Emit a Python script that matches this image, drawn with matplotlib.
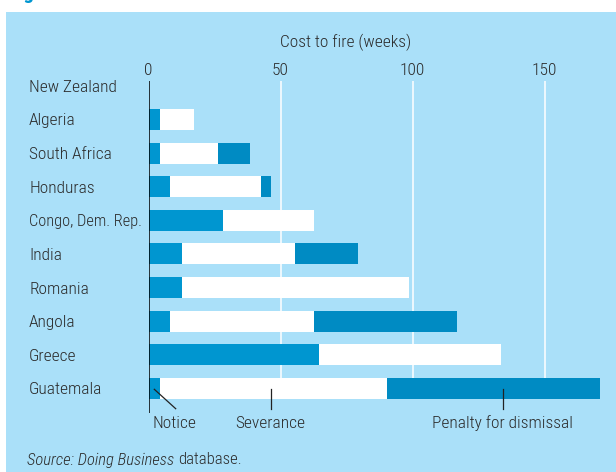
import matplotlib.pyplot as plt
from matplotlib import font_manager
from matplotlib.patches import Rectangle

# 데이터 (그림에서 읽은 값, 단위: 주)
countries = ["New Zealand", "Algeria", "South Africa", "Honduras", "Congo, Dem. Rep.",
             "India", "Romania", "Angola", "Greece", "Guatemala"]
notice = [0, 4.4, 4.4, 8.3, 28.3, 12.5, 12.5, 8.3, 64.7, 4.4]
severance = [0, 12.9, 22.0, 34.4, 34.5, 43.1, 86.3, 54.5, 68.9, 86.0]
penalty = [0, 0, 12.1, 3.8, 0, 23.8, 0, 54.1, 0, 80.6]
xticks = [0, 50, 100, 150]

bg = "#aae0f9"
blue = "#0096d0"
dark_blue = "#008bc3"
txt = "#2b2b2b"

# 좁은 글꼴이 있으면 그걸 쓰고, 없으면 Lato
installed = {f.name for f in font_manager.fontManager.ttflist}
font = "Lato"
for cand in ["Roboto Condensed", "Liberation Sans Narrow"]:
    if cand in installed:
        font = cand
        break
plt.rcParams['font.family'] = [font, 'DejaVu Sans']
plt.rcParams['font.weight'] = 'light'
fs = 12.5 if font != "Lato" else 11.5

W, H = 616, 472
fig = plt.figure(figsize=(W / 100, H / 100), dpi=100)
fig.patch.set_facecolor("white")
fig.patches.append(Rectangle((6 / W, 0), 1 - 6 / W, 1 - 12 / H, transform=fig.transFigure,
                             facecolor=bg, edgecolor="none", zorder=-10))

# 잘린 제목
fig.text(8 / W, 1 + 1.5 / H, "Figure 8.6  Costs to fire in some countries", color=blue,
         fontsize=15, fontweight="bold", va="baseline", ha="left")

x0 = 148.5
ax = fig.add_axes([x0 / W, 1 - 413 / H, 1 - x0 / W, (413 - 80.5) / H])
ax.set_facecolor("none")
for s in ax.spines.values():
    s.set_visible(False)

y = list(range(len(countries)))
h = 0.625
left2 = [a + b for a, b in zip(notice, severance)]
ax.barh(y, notice, height=h, color=blue, zorder=3)
ax.barh(y, severance, left=notice, height=h, color="white", zorder=3)
ax.barh(y, penalty, left=left2, height=h, color=dark_blue, zorder=3)

ax.set_xlim(0, (W - x0) / 2.64)
ax.set_ylim(9.73, -0.16)

ax.vlines(xticks[1:], -0.16, 9, color="white", lw=1.1, zorder=1)
ax.axvline(0, color="black", lw=1.1, zorder=4)

ax.xaxis.tick_top()
ax.set_xticks(xticks)
ax.set_xticklabels([str(t) for t in xticks], fontsize=fs, color=txt)
ax.tick_params(axis="x", length=0, pad=1.5)

ax.set_yticks(y)
ax.set_yticklabels(countries, fontsize=fs, color=txt, ha="left")
ax.tick_params(axis="y", length=0, pad=(x0 - 29) * 0.72)
# 콩고 라벨이 축선에 닿지 않게 조금 줄임
ax.get_yticklabels()[4].set_fontsize(fs - 0.7)

fig.text(346 / W, 1 - 42 / H, "Cost to fire (weeks)", fontsize=fs, color=txt,
         ha="center", va="center")

# 아래쪽 범례 주석
fig.text(153 / W, 1 - 423 / H, "Notice", fontsize=fs, color=txt, ha="left", va="center")
fig.text(270 / W, 1 - 423 / H, "Severance", fontsize=fs, color=txt, ha="center", va="center")
fig.text(502 / W, 1 - 423 / H, "Penalty for dismissal", fontsize=fs, color=txt,
         ha="center", va="center")
fig.add_artist(plt.Line2D([154.3 / W, 175.7 / W], [1 - 389.3 / H, 1 - 408.7 / H],
                          color="#222222", lw=0.9, transform=fig.transFigure))
for xp in [271, 502.7]:
    fig.add_artist(plt.Line2D([xp / W, xp / W], [1 - 389 / H, 1 - 409 / H],
                              color="#222222", lw=0.9, transform=fig.transFigure))

src = fig.text(27 / W, 1 - 460 / H, "Source: Doing Business", fontsize=fs - 0.5, color=txt,
               style="italic", ha="left", va="center")
fig.canvas.draw()
bb = src.get_window_extent()
fig.text((bb.x1 + 3.5) / W, 1 - 460 / H, "database.", fontsize=fs - 0.5, color=txt,
         ha="left", va="center")

fig.savefig("out.png", dpi=100)
